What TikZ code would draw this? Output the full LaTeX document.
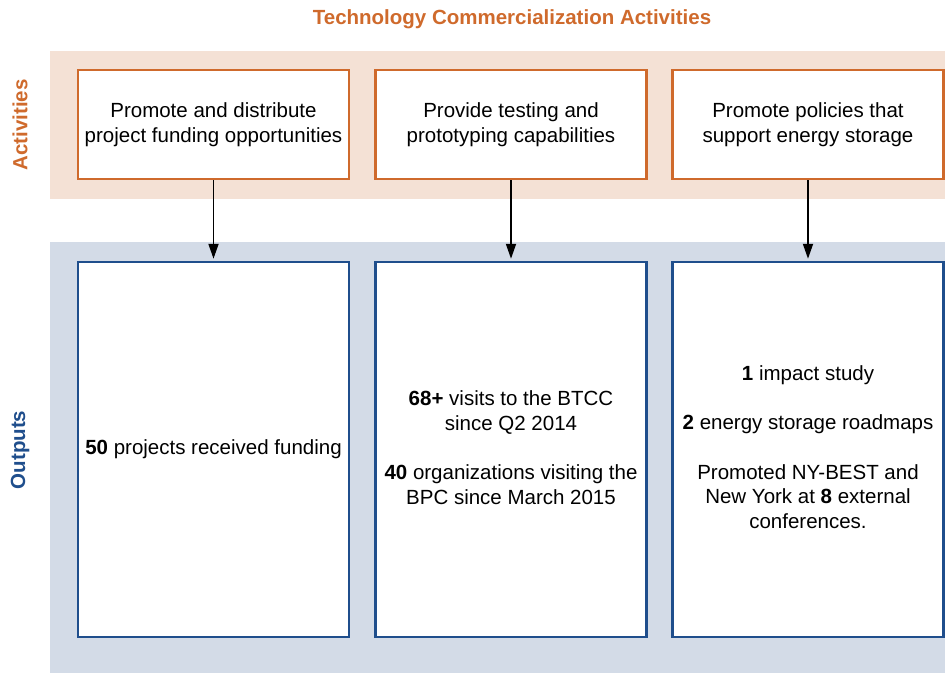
\documentclass[tikz,border=0pt]{standalone}
\usepackage{fontspec}
\setmainfont{Liberation Sans}
\usetikzlibrary{arrows.meta}
\definecolor{actorange}{HTML}{CF6A2C}
\definecolor{actband}{HTML}{F4E1D5}
\definecolor{outblue}{HTML}{1F4E8C}
\definecolor{outband}{HTML}{D3DBE7}
\tikzset{
  txt/.style={font=\fontsize{20.5}{24.5}\selectfont, align=center, text=black},
  actbox/.style={txt, draw=actorange, line width=2.5pt, fill=white,
    minimum width=271pt, minimum height=109pt, inner sep=0pt},
  outbox/.style={draw=outblue, line width=2.5pt, fill=white,
    minimum width=271pt, minimum height=375pt, inner sep=0pt},
  rowlabel/.style={font=\fontsize{20.5}{24.5}\selectfont\bfseries, rotate=90},
  flow/.style={line width=1.8pt, -{Triangle[length=15pt,width=10pt]}}
}
\begin{document}
\begin{tikzpicture}[x=1pt,y=-1pt]
\useasboundingbox (0,0) rectangle (945,673);
% background bands
\fill[actband] (50,51) rectangle (945,199);
\fill[outband] (50,242) rectangle (945,673);
% title and row labels
\node[font=\fontsize{20.5}{24.5}\selectfont\bfseries, text=actorange] (title) at (512,19) {Technology Commercialization Activities};
\node[rowlabel, text=actorange] (lact) at (20,125) {Activities};
\node[rowlabel, text=outblue] (lout) at (20,450) {Outputs};
% activities
\node[actbox] (a1) at (213.5,124.5) {Promote and distribute\\project funding opportunities};
\node[actbox] (a2) at (511,124.5) {Provide testing and\\prototyping capabilities};
\node[actbox] (a3) at (808,124.5) {Promote policies that\\support energy storage};
% outputs: frames, then their texts
\node[outbox] (o1) at (213.5,449.5) {};
\node[outbox] (o2) at (511,449.5) {};
\node[outbox] (o3) at (808,449.5) {};
\node[txt] (o1t) at (213.5,449) {\textbf{50} projects received funding};
\node[txt] (o2t) at (511,447.5) {\textbf{68+} visits to the BTCC\\since Q2 2014\\[25pt]\textbf{40} organizations visiting the\\BPC since March 2015};
\node[txt] (o3t) at (808,447) {\textbf{1} impact study\\[25pt]\textbf{2} energy storage roadmaps\\[25pt]Promoted NY-BEST and\\New York at \textbf{8} external\\conferences.};
% connectors
\draw[flow] (a1.south) -- ([yshift=2pt]o1.north);
\draw[flow] (a2.south) -- ([yshift=2pt]o2.north);
\draw[flow] (a3.south) -- ([yshift=2pt]o3.north);
\end{tikzpicture}
\end{document}
